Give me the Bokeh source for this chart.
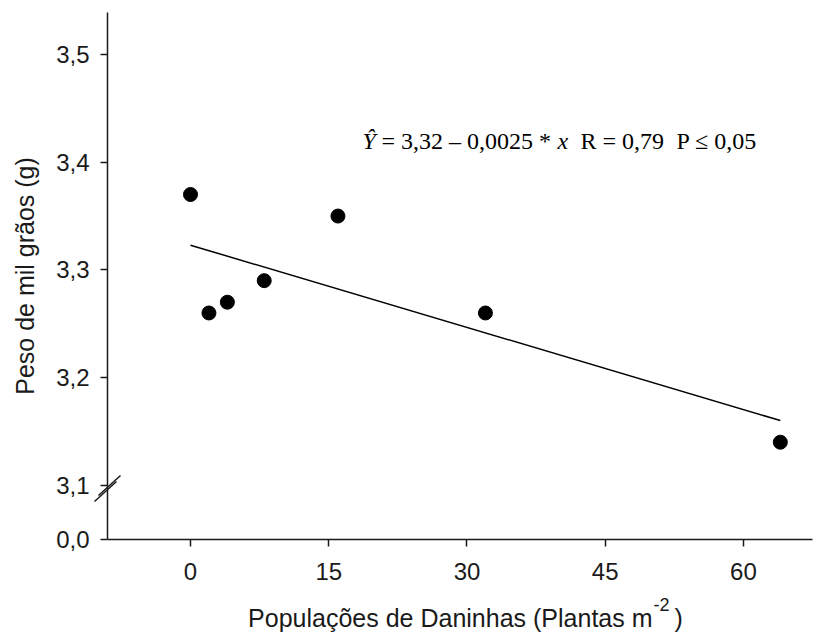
import numpy as np
from bokeh.plotting import figure
from bokeh.models import Label, Range1d
from bokeh.embed import file_html
from bokeh.resources import INLINE

# ---- data ----
plantas = [0, 2, 4, 8, 16, 32, 64]
peso = [3.37, 3.26, 3.27, 3.29, 3.35, 3.26, 3.14]
x_ticks = [0, 15, 30, 45, 60]
y_ticks = [3.05, 3.1, 3.2, 3.3, 3.4, 3.5]          # 3.05 carries the "0,0" label below the axis break
y_tick_labels = ["0,0", "3,1", "3,2", "3,3", "3,4", "3,5"]
x_title = "Populações de Daninhas (Plantas m"
x_title_sup = "-2"
y_title = "Peso de mil grãos (g)"
x_axis_bounds = (-9.0, 67.5)
y_axis_bounds = (3.05, 3.539)

# ---- layout: the frame fills the whole canvas; axes sit at fixed locations ----
W, H = 816, 632
SX = 9.216          # px per x unit
SY = 1077.0         # px per y unit
X0 = -190 / SX
X1 = X0 + W / SX
Y1 = 3.5 + 54 / SY
Y0 = Y1 - H / SY

def px_x(px):
    return X0 + px / SX

def px_y(py):
    return Y1 - py / SY

SANS = "Liberation Sans"
SERIF = "Liberation Serif"
INK = "#1a1a1a"

p = figure(width=W, height=H, x_range=Range1d(X0, X1), y_range=Range1d(Y0, Y1),
           output_backend="svg", toolbar_location=None,
           min_border_left=0, min_border_right=0, min_border_top=0, min_border_bottom=0)
p.outline_line_color = None
p.xgrid.visible = False
p.ygrid.visible = False

for ax in (p.xaxis, p.yaxis):
    ax.axis_line_width = 1.5
    ax.axis_line_color = INK
    ax.major_tick_line_color = INK
    ax.major_tick_line_width = 1.5
    ax.major_tick_in = 0
    ax.major_tick_out = 7
    ax.minor_tick_line_color = None
    ax.major_label_text_font = SANS
    ax.major_label_text_font_size = "24px"
    ax.major_label_text_color = INK

p.xaxis.fixed_location = y_axis_bounds[0]
p.xaxis.bounds = x_axis_bounds
p.xaxis.ticker = x_ticks
p.xaxis.major_label_standoff = 17

p.yaxis.fixed_location = x_axis_bounds[0]
p.yaxis.bounds = y_axis_bounds
p.yaxis.ticker = y_ticks
p.yaxis.major_label_overrides = {t: l for t, l in zip(y_ticks, y_tick_labels)}
p.yaxis.major_label_standoff = 11
p.yaxis.axis_label = y_title
p.yaxis.axis_label_text_font = SANS
p.yaxis.axis_label_text_font_size = "25px"
p.yaxis.axis_label_text_font_style = "normal"
p.yaxis.axis_label_text_color = INK
p.yaxis.axis_label_standoff = 14

# regression line fitted to the data
b, a = np.polyfit(plantas, peso, 1)
xl = [min(plantas), max(plantas)]
p.line(xl, [a + b * v for v in xl], line_color="black", line_width=1.5)

p.scatter(plantas, peso, size=14, marker="circle", fill_color="black", line_color="black")

# equation text
eq_y = px_y(140)
S = 362
pieces = [("Ŷ", 0, "italic"), ("= 3,32 – 0,0025 *", 19, "normal"), ("x", 195, "italic"),
          ("R = 0,79", 218, "normal"), ("P ≤ 0,05", 314, "normal")]
for txt, off, style in pieces:
    p.add_layout(Label(x=px_x(S + off), y=eq_y, text=txt, text_font=SERIF,
                       text_font_size="24px", text_font_style=style, text_color="black",
                       text_align="left", text_baseline="middle"))

# x-axis title with superscript
ty = 617
p.add_layout(Label(x=px_x(652), y=px_y(ty), text=x_title, text_font=SANS, text_font_size="25px",
                   text_align="right", text_baseline="middle", text_color=INK))
p.add_layout(Label(x=px_x(653), y=px_y(ty - 13), text=x_title_sup, text_font=SANS, text_font_size="18px",
                   text_align="left", text_baseline="middle", text_color=INK))
p.add_layout(Label(x=px_x(674), y=px_y(ty), text=")", text_font=SANS, text_font_size="25px",
                   text_align="left", text_baseline="middle", text_color=INK))

# axis break marks ( // across the y axis just below 3,1 )
cx, cy = 107, 488
x_s, y_s, x_e, y_e = [], [], [], []
for ox, oy in [(-2, 3), (2, -3)]:
    x_s.append(px_x(cx + ox - 11)); y_s.append(px_y(cy + oy + 10))
    x_e.append(px_x(cx + ox + 11)); y_e.append(px_y(cy + oy - 10))
p.segment(x_s, y_s, x_e, y_e, line_color=INK, line_width=1.5)

open("out.html", "w").write(file_html(p, INLINE))
